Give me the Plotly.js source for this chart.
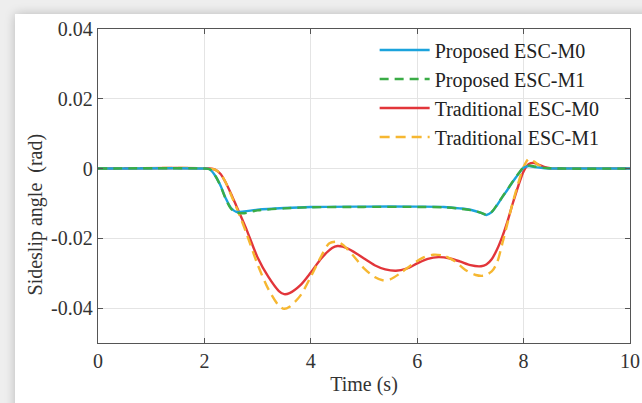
<!DOCTYPE html>
<html>
<head>
<meta charset="utf-8">
<script src="https://cdn.plot.ly/plotly-3.0.1.min.js"></script>
<style>
html,body{margin:0;padding:0;width:642px;height:403px;overflow:hidden;background:#eeeeee;}
#card{position:absolute;left:15px;top:14px;width:700px;height:450px;background:#ffffff;box-shadow:0 0 10px rgba(0,0,0,0.22);}
#chart{position:absolute;left:0;top:0;width:642px;height:403px;}
</style>
</head>
<body>
<div id="card"></div>
<div id="chart"></div>
<script>
// ---- data ----
const seriesNames = ["Proposed ESC-M0", "Proposed ESC-M1", "Traditional ESC-M0", "Traditional ESC-M1"];

const tProposedM0 = [0, 2.0, 2.1, 2.2, 2.3, 2.4, 2.5, 2.6, 2.75, 3.0, 3.5, 4.0, 5.0, 6.0, 6.5, 6.8, 7.0, 7.2, 7.3, 7.4, 7.5, 7.6, 7.7, 7.8, 7.9, 8.0, 8.1, 8.2, 8.4, 8.7, 10];
const vProposedM0 = [0, 0, -0.0002, -0.002, -0.0048, -0.0085, -0.0113, -0.0124, -0.0123, -0.0118, -0.0113, -0.011, -0.0109, -0.0109, -0.011, -0.0114, -0.0118, -0.0127, -0.0133, -0.0125, -0.0105, -0.0082, -0.006, -0.0037, -0.0016, 0.0002, 0.0007, 0.0004, 0.0001, 0, 0];

const tProposedM1 = [0, 2.0, 2.1, 2.2, 2.3, 2.4, 2.5, 2.6, 2.75, 3.0, 3.5, 4.0, 5.0, 6.0, 6.5, 6.8, 7.0, 7.2, 7.3, 7.4, 7.5, 7.6, 7.7, 7.8, 7.9, 8.0, 8.1, 8.2, 8.4, 8.7, 10];
const vProposedM1 = [0, 0, -0.0002, -0.002, -0.0049, -0.0087, -0.0115, -0.0126, -0.0128, -0.012, -0.0114, -0.0111, -0.011, -0.011, -0.0111, -0.0115, -0.0119, -0.0127, -0.0132, -0.0124, -0.0104, -0.0081, -0.0059, -0.0036, -0.0015, 0.0003, 0.0009, 0.0006, 0.0002, 0, 0];

const tTraditionalM0 = [0, 2.1, 2.2, 2.3, 2.4, 2.5, 2.6, 2.7, 2.8, 3.0, 3.2, 3.4, 3.5, 3.6, 3.8, 4.0, 4.2, 4.4, 4.5, 4.6, 4.8, 5.0, 5.2, 5.4, 5.6, 5.8, 6.0, 6.2, 6.4, 6.6, 6.8, 7.0, 7.2, 7.3, 7.4, 7.5, 7.6, 7.7, 7.8, 7.9, 8.0, 8.1, 8.2, 8.3, 8.4, 8.5, 8.7, 10];
const vTraditionalM0 = [0, 0, -0.0003, -0.0015, -0.004, -0.0072, -0.0107, -0.0142, -0.0178, -0.0255, -0.031, -0.0351, -0.036, -0.0357, -0.0335, -0.0298, -0.0257, -0.0228, -0.0222, -0.0224, -0.0238, -0.0258, -0.0277, -0.0289, -0.0293, -0.0287, -0.0272, -0.0259, -0.0254, -0.0257, -0.0266, -0.0277, -0.028, -0.0275, -0.026, -0.0232, -0.0195, -0.015, -0.0098, -0.005, -0.0008, 0.0013, 0.0016, 0.001, 0.0004, 0.0001, 0, 0];

const tTraditionalM1 = [0, 2.1, 2.2, 2.3, 2.4, 2.5, 2.6, 2.7, 2.8, 3.0, 3.2, 3.4, 3.5, 3.6, 3.8, 4.0, 4.2, 4.35, 4.5, 4.6, 4.8, 5.0, 5.2, 5.35, 5.5, 5.7, 5.9, 6.1, 6.3, 6.5, 6.7, 6.9, 7.1, 7.25, 7.4, 7.5, 7.6, 7.7, 7.8, 7.9, 8.0, 8.1, 8.2, 8.3, 8.4, 8.6, 10];
const vTraditionalM1 = [0, 0, -0.0003, -0.0015, -0.004, -0.0075, -0.0111, -0.0149, -0.019, -0.0275, -0.0345, -0.0393, -0.0402, -0.0396, -0.0365, -0.031, -0.025, -0.0214, -0.021, -0.0218, -0.025, -0.0286, -0.0311, -0.032, -0.0317, -0.0298, -0.0275, -0.0256, -0.0247, -0.025, -0.0265, -0.029, -0.0305, -0.0307, -0.0295, -0.027, -0.0215, -0.0155, -0.0095, -0.0042, 0.0005, 0.0028, 0.002, 0.0008, 0.0002, 0, 0];

const xTickVals = [0, 2, 4, 6, 8, 10];
const xTickText = ["0", "2", "4", "6", "8", "10"];
const yTickVals = [-0.04, -0.02, 0, 0.02, 0.04];
const yTickText = ["-0.04", "-0.02", "0", "0.02", "0.04"];

const xTitle = "Time (s)";
const yTitle = "Sideslip angle  (rad)";

// ---- traces ----
const colors = ["#1ba3dc", "#3aac46", "#e2353a", "#f6b731"];
const dashes = ["solid", "9px,6px", "solid", "10px,6px"];
const xs = [tProposedM0, tProposedM1, tTraditionalM0, tTraditionalM1];
const ys = [vProposedM0, vProposedM1, vTraditionalM0, vTraditionalM1];

// draw order: traditional first, proposed on top
const order = [2, 3, 0, 1];
const traces = order.map(i => ({
  x: xs[i], y: ys[i], name: seriesNames[i], type: "scatter", mode: "lines",
  line: {color: colors[i], width: 2.4, dash: dashes[i], shape: "spline", smoothing: 0.8}
}));
const legendRank = {0: 1, 1: 2, 2: 3, 3: 4};
traces.forEach((tr, k) => { tr.legendrank = legendRank[order[k]]; });

const font = "'Liberation Serif', 'Times New Roman', serif";
const axisCommon = {
  showline: true, linecolor: "#555555", linewidth: 1.3, mirror: "ticks",
  ticks: "inside", ticklen: 5, tickcolor: "#555555", tickwidth: 1,
  showgrid: true, gridcolor: "#e4e4e4", gridwidth: 1, zeroline: false,
  tickfont: {family: font, size: 20, color: "#333333"}
};

const layout = {
  width: 642, height: 403,
  paper_bgcolor: "rgba(0,0,0,0)", plot_bgcolor: "#ffffff",
  margin: {l: 98, r: 12, t: 29, b: 60},
  showlegend: true,
  legend: {
    x: 0.52, y: 0.995, xanchor: "left", yanchor: "top",
    bgcolor: "rgba(255,255,255,0)", borderwidth: 0,
    font: {family: font, size: 20, color: "#222222"},
    itemwidth: 50, tracegroupgap: 0
  },
  xaxis: Object.assign({}, axisCommon, {
    range: [0, 10], tickvals: xTickVals, ticktext: xTickText,
    title: {text: xTitle, font: {family: font, size: 20, color: "#333333"}, standoff: 5}
  }),
  yaxis: Object.assign({}, axisCommon, {
    range: [-0.05, 0.04], tickvals: yTickVals, ticktext: yTickText
  }),
  annotations: [{
    text: yTitle, xref: "paper", yref: "paper", x: -0.118, y: 0.41,
    xanchor: "center", yanchor: "middle", textangle: -90, showarrow: false,
    font: {family: font, size: 20, color: "#333333"}
  }]
};

Plotly.newPlot("chart", traces, layout, {displayModeBar: false, staticPlot: true});
</script>
</body>
</html>
